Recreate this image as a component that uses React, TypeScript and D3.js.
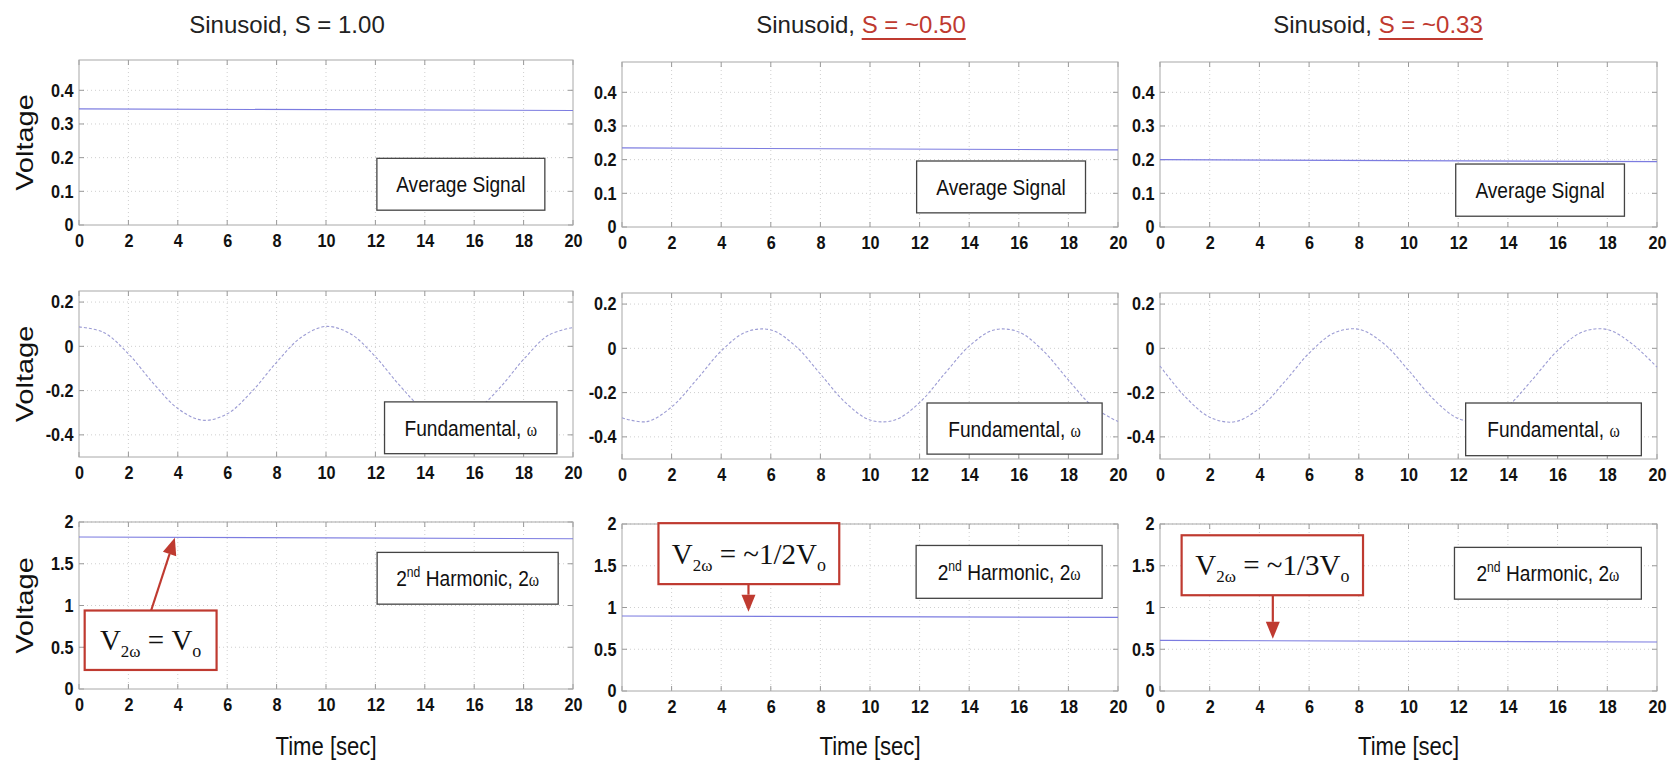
import React, { useEffect, useRef } from "react";
import * as d3 from "d3";

// ---- data ----
const timeTicks = [0, 2, 4, 6, 8, 10, 12, 14, 16, 18, 20];
const lineTime = [0, 20];
const sampleTime = [0, 1, 2, 3, 4, 5, 6, 7, 8, 9, 10, 11, 12, 13, 14, 15, 16, 17, 18, 19, 20];

const avgTicks = [0, 0.1, 0.2, 0.3, 0.4];
const fundTicks = [-0.4, -0.2, 0, 0.2];
const harmTicks = [0, 0.5, 1, 1.5, 2];

// average signal, one flat line per column (start, end)
const avgS100 = [0.345, 0.34];
const avgS050 = [0.235, 0.229];
const avgS033 = [0.2, 0.194];

// fundamental component, read every second
const fundS100 = [0.088, 0.063, -0.034, -0.166, -0.281, -0.334, -0.305, -0.204, -0.072, 0.041, 0.09, 0.056, -0.047, -0.179, -0.29, -0.335, -0.296, -0.192, -0.059, 0.05, 0.085];
const fundS050 = [-0.314, -0.331, -0.265, -0.143, -0.012, 0.074, 0.083, 0.01, -0.116, -0.244, -0.324, -0.324, -0.245, -0.116, 0.01, 0.083, 0.074, -0.013, -0.143, -0.265, -0.331];
const fundS033 = [-0.08, -0.217, -0.311, -0.332, -0.271, -0.153, -0.022, 0.069, 0.086, 0.022, -0.099, -0.229, -0.317, -0.33, -0.261, -0.139, -0.01, 0.074, 0.085, 0.02, -0.085];

// second harmonic, flat lines
const harmS100 = [1.82, 1.8];
const harmS050 = [0.898, 0.882];
const harmS033 = [0.606, 0.586];

const titleValues = ["S = 1.00", "S = ~0.50", "S = ~0.33"];
const ratioLabels = ["= V", "= ~1/2V", "= ~1/3V"];

// ---- layout ----
const W = 1678;
const H = 768;
const colX = [[79, 573], [622, 1118], [1160, 1657]];
const colDy = [0, 2, 2];
const rowY = [[60, 225], [291, 457], [522, 689]];
const titleX = [287, 861, 1378];

const RED = "#bf3a30";
const SANS = "'Liberation Sans', Arial, sans-serif";
const SERIF = "'Liberation Serif', 'Times New Roman', serif";

const App = () => {
  const svgRef = useRef(null);

  useEffect(() => {
    const svg = d3.select(svgRef.current);
    svg.selectAll("*").remove();

    const avgCols = [avgS100, avgS050, avgS033];
    const fundCols = [fundS100, fundS050, fundS033];
    const harmCols = [harmS100, harmS050, harmS033];

    const rows = [
      { domain: [0, 0.49], ticks: avgTicks },
      { domain: [-0.5, 0.25], ticks: fundTicks },
      { domain: [0, 2], ticks: harmTicks },
    ];

    // annotation boxes in data units [t0, t1, v0, v1]
    const avgBox = [[12.06, 18.86, 0.044, 0.198], [11.88, 18.69, 0.042, 0.196], [11.9, 18.69, 0.032, 0.187]];
    const fundBox = [[12.37, 19.35, -0.485, -0.251], [12.3, 19.36, -0.478, -0.247], [12.3, 19.37, -0.485, -0.247]];
    const harmBox = [[12.07, 19.4, 1.016, 1.636], [11.86, 19.36, 1.11, 1.743], [11.85, 19.37, 1.1, 1.72]];
    const redBox = [[0.23, 5.57, 0.228, 0.94], [1.47, 8.76, 1.28, 2.01], [0.87, 8.17, 1.147, 1.865]];
    const arrows = [[2.92, 0.94, 3.88, 1.81], [5.1, 1.28, 5.1, 0.95], [4.54, 1.147, 4.54, 0.625]];

    const addText = (g, x, y, parts, opts = {}) => {
      const t = g
        .append("text")
        .attr("transform", `translate(${x},${y}) scale(${opts.sx || 1},1)`)
        .attr("text-anchor", "middle")
        .style("font-family", opts.family || SANS)
        .style("font-size", (opts.size || 22) + "px")
        .style("fill", opts.fill || "#111");
      parts.forEach((p) => {
        const s = t.append("tspan").text(p.t);
        if (p.size) s.style("font-size", p.size + "px");
        if (p.family) s.style("font-family", p.family);
        if (p.dy) s.attr("dy", p.dy);
      });
      return t;
    };

    const drawBox = (g, x, y, b, stroke, sw) =>
      g
        .append("rect")
        .attr("x", x(b[0]))
        .attr("y", y(b[3]))
        .attr("width", x(b[1]) - x(b[0]))
        .attr("height", y(b[2]) - y(b[3]))
        .attr("fill", "#fff")
        .attr("stroke", stroke)
        .attr("stroke-width", sw);

    for (let c = 0; c < 3; c++) {
      for (let r = 0; r < 3; r++) {
        const row = rows[r];
        const x0 = colX[c][0];
        const x1 = colX[c][1];
        const y0 = rowY[r][0] + colDy[c];
        const y1 = rowY[r][1] + colDy[c];
        const x = d3.scaleLinear().domain([0, 20]).range([x0, x1]);
        const y = d3.scaleLinear().domain(row.domain).range([y1, y0]);
        const g = svg.append("g");

        // dotted grid
        g.selectAll(".gx")
          .data(timeTicks.slice(1, -1))
          .join("line")
          .attr("x1", (d) => x(d))
          .attr("x2", (d) => x(d))
          .attr("y1", y0)
          .attr("y2", y1)
          .attr("stroke", "#cfcfcf")
          .attr("stroke-dasharray", "1 3");
        g.selectAll(".gy")
          .data(row.ticks.filter((d) => d !== row.domain[0]))
          .join("line")
          .attr("x1", x0)
          .attr("x2", x1)
          .attr("y1", (d) => y(d))
          .attr("y2", (d) => y(d))
          .attr("stroke", "#cfcfcf")
          .attr("stroke-dasharray", "1 3");

        // inward ticks on all four sides
        const tk = 5;
        timeTicks.forEach((d) => {
          g.append("line").attr("x1", x(d)).attr("x2", x(d)).attr("y1", y1).attr("y2", y1 - tk).attr("stroke", "#999");
          g.append("line").attr("x1", x(d)).attr("x2", x(d)).attr("y1", y0).attr("y2", y0 + tk).attr("stroke", "#999");
        });
        row.ticks.forEach((d) => {
          g.append("line").attr("x1", x0).attr("x2", x0 + tk).attr("y1", y(d)).attr("y2", y(d)).attr("stroke", "#999");
          g.append("line").attr("x1", x1).attr("x2", x1 - tk).attr("y1", y(d)).attr("y2", y(d)).attr("stroke", "#999");
        });

        g.append("rect")
          .attr("x", x0)
          .attr("y", y0)
          .attr("width", x1 - x0)
          .attr("height", y1 - y0)
          .attr("fill", "none")
          .attr("stroke", "#a8a8a8");

        // axes labels
        const ax = g
          .append("g")
          .attr("transform", `translate(0,${y1})`)
          .call(d3.axisBottom(x).tickValues(timeTicks).tickSize(0).tickPadding(9).tickFormat(d3.format("d")));
        const ay = g
          .append("g")
          .attr("transform", `translate(${x0},0)`)
          .call(d3.axisLeft(y).tickValues(row.ticks).tickSize(0).tickPadding(6).tickFormat((d) => String(d)));
        [ax, ay].forEach((a) => {
          a.select(".domain").remove();
          a.selectAll("text")
            .attr("transform", "scale(0.9,1)")
            .style("font-family", SANS)
            .style("font-size", "18px")
            .style("font-weight", "bold")
            .style("fill", "#111");
        });

        // signal
        if (r === 1) {
          const line = d3
            .line()
            .x((d) => x(d[0]))
            .y((d) => y(d[1]))
            .curve(d3.curveCatmullRom.alpha(0.5));
          g.append("path")
            .datum(sampleTime.map((t, i) => [t, fundCols[c][i]]))
            .attr("d", line)
            .attr("fill", "none")
            .attr("stroke", "#9c9cd4")
            .attr("stroke-width", 1.1)
            .attr("stroke-dasharray", "3 2");
        } else {
          const vals = r === 0 ? avgCols[c] : harmCols[c];
          const line = d3
            .line()
            .x((d) => x(d[0]))
            .y((d) => y(d[1]));
          g.append("path")
            .datum(lineTime.map((t, i) => [t, vals[i]]))
            .attr("d", line)
            .attr("fill", "none")
            .attr("stroke", "#7c7ce0")
            .attr("stroke-width", 1.1);
        }

        // label boxes
        if (r === 0) {
          const b = avgBox[c];
          drawBox(g, x, y, b, "#444", 1.3);
          addText(g, (x(b[0]) + x(b[1])) / 2, (y(b[2]) + y(b[3])) / 2 + 8, [{ t: "Average Signal" }], { sx: 0.87 });
        }
        if (r === 1) {
          const b = fundBox[c];
          drawBox(g, x, y, b, "#444", 1.3);
          addText(
            g,
            (x(b[0]) + x(b[1])) / 2,
            (y(b[2]) + y(b[3])) / 2 + 8,
            [{ t: "Fundamental, " }, { t: "ω", family: SERIF, size: 18 }],
            { sx: 0.87 }
          );
        }
        if (r === 2) {
          const b = harmBox[c];
          drawBox(g, x, y, b, "#444", 1.3);
          addText(
            g,
            (x(b[0]) + x(b[1])) / 2,
            (y(b[2]) + y(b[3])) / 2 + 8,
            [
              { t: "2" },
              { t: "nd", size: 14, dy: -9 },
              { t: " Harmonic, 2", dy: 9 },
              { t: "ω", family: SERIF, size: 18 },
            ],
            { sx: 0.87 }
          );

          // red callout + arrow
          const a = arrows[c];
          const ax1 = x(a[0]);
          const ay1 = y(a[1]);
          const ax2 = x(a[2]);
          const ay2 = y(a[3]);
          const ang = Math.atan2(ay2 - ay1, ax2 - ax1);
          const hl = 17;
          const hw = 7;
          const bx = ax2 - hl * Math.cos(ang);
          const by = ay2 - hl * Math.sin(ang);
          g.append("line")
            .attr("x1", ax1)
            .attr("y1", ay1)
            .attr("x2", bx)
            .attr("y2", by)
            .attr("stroke", RED)
            .attr("stroke-width", 2.2);
          g.append("path")
            .attr(
              "d",
              `M${ax2},${ay2}L${bx + hw * Math.sin(ang)},${by - hw * Math.cos(ang)}L${bx - hw * Math.sin(ang)},${by + hw * Math.cos(ang)}Z`
            )
            .attr("fill", RED);

          const rb = redBox[c];
          drawBox(g, x, y, rb, RED, 2.2);
          addText(
            g,
            (x(rb[0]) + x(rb[1])) / 2,
            (y(rb[2]) + y(rb[3])) / 2 + 10,
            [
              { t: "V" },
              { t: "2ω", size: 17, dy: 7 },
              { t: " " + ratioLabels[c], dy: -7 },
              { t: "o", size: 18, dy: 7 },
            ],
            { family: SERIF, size: 29 }
          );
        }
      }

      // column title
      const title = svg
        .append("text")
        .attr("x", titleX[c])
        .attr("y", 33)
        .attr("text-anchor", "middle")
        .style("font-family", SANS)
        .style("font-size", "24px")
        .style("fill", "#222");
      title.append("tspan").text("Sinusoid, ");
      const val = title
        .append("tspan")
        .text(titleValues[c])
        .style("fill", c === 0 ? "#222" : RED);
      if (c > 0) {
        const node = val.node();
        const sx = node.getStartPositionOfChar(0).x;
        const len = node.getComputedTextLength();
        svg
          .append("line")
          .attr("x1", sx)
          .attr("x2", sx + len)
          .attr("y1", 39)
          .attr("y2", 39)
          .attr("stroke", RED)
          .attr("stroke-width", 2);
      }

      // x label
      svg
        .append("text")
        .attr("transform", `translate(${(colX[c][0] + colX[c][1]) / 2},755) scale(0.85,1)`)
        .attr("text-anchor", "middle")
        .style("font-family", SANS)
        .style("font-size", "26px")
        .style("fill", "#111")
        .text("Time [sec]");
    }

    // y labels, first column only
    rowY.forEach((ry) => {
      svg
        .append("text")
        .attr("transform", `translate(33,${(ry[0] + ry[1]) / 2}) scale(0.85,1) rotate(-90)`)
        .attr("text-anchor", "middle")
        .style("font-family", SANS)
        .style("font-size", "29px")
        .style("fill", "#111")
        .text("Voltage");
    });
  }, []);

  return (
    <svg
      ref={svgRef}
      width={W}
      height={H}
      style={{ position: "absolute", left: 0, top: 0, display: "block", background: "#fff" }}
    ></svg>
  );
};

export default App;
